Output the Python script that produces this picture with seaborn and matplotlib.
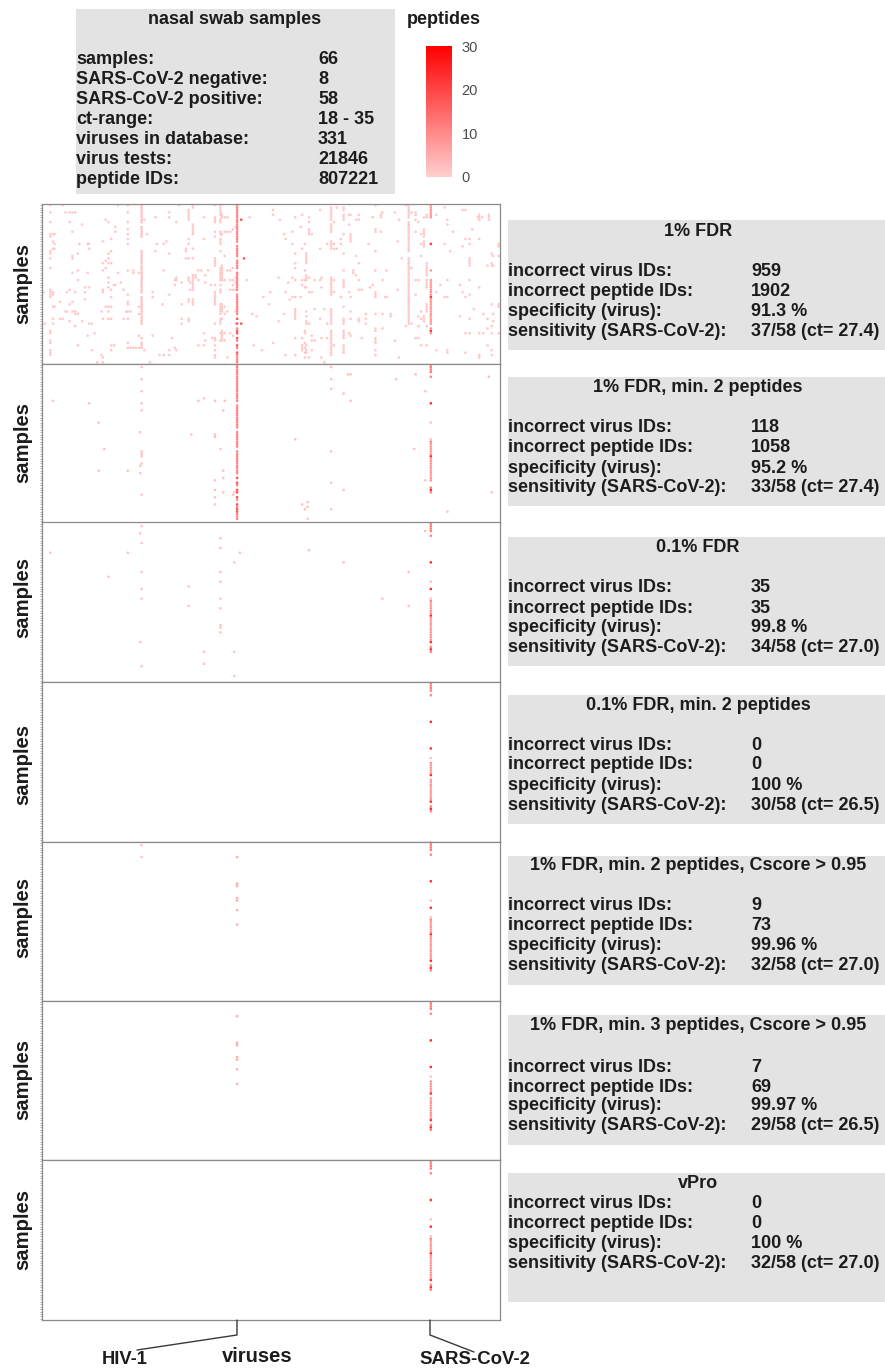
import numpy as np
import pandas as pd
import matplotlib
matplotlib.use("Agg")
import matplotlib.pyplot as plt
from matplotlib.cm import ScalarMappable
from matplotlib.colors import LinearSegmentedColormap, Normalize
from matplotlib.lines import Line2D
from matplotlib.patches import Rectangle
import seaborn as sns

N_SAMPLES = 66
N_VIRUSES = 331
HIV_COL = 141
HIV2_COL = 72
SARS_COL = 281

HIV_GAPS = [16, 27, 35, 46, 48, 51, 54, 57, 65]
HIV_BRIGHT = [47, 49, 52, 53, 55, 58, 60, 61]
COL72_RICH = [0, 1, 2, 3, 4, 5, 6, 7, 9, 10, 11, 12, 13, 19, 20, 21, 22, 23, 24, 25, 26, 27, 28, 29,
              30, 31, 32, 33, 34, 35, 36, 38, 39, 40, 41, 42, 43, 44, 45, 46, 47, 48, 49, 55, 57, 58, 59]

SARS_TOP = [0, 1, 2, 3]
SARS_BODY = [33, 34, 35, 36, 37, 39, 40, 41, 42, 43, 44, 45, 46, 47, 48]
SARS_BRIGHT = [16, 27, 38, 49, 52]
SARS_FAINT = [24, 31]

# Panel 1: 1% FDR, scattered identifications as column -> rows
P1_LEFT = {
    1: [36], 2: [49], 6: [0, 3, 7, 12, 13, 19, 20, 22, 26, 35, 36, 37, 38, 52, 53, 56, 57, 60, 61, 62],
    8: [12, 15, 18, 36, 37, 42, 47, 49], 9: [12, 16, 18, 42], 13: [40, 47], 15: [0, 47], 17: [44, 3],
    18: [44, 36], 20: [3, 7, 41, 48, 35], 22: [3, 11, 21, 22, 28, 40, 44], 24: [3, 36, 44, 45, 50],
    26: [20, 27, 31, 45, 58], 27: [16], 29: [8, 48], 31: [34, 36, 39], 33: [16, 28, 54], 34: [16, 18, 34, 49],
    36: [49, 60], 38: [53], 40: [65], 43: [44, 62], 44: [15, 24, 27, 35, 36, 47, 63, 65], 46: [6, 26, 42, 23],
    48: [7, 20, 22, 24, 30, 32, 34, 42, 44, 47], 50: [14, 19, 24, 35, 42, 47, 58, 60, 38], 52: [58, 33],
    53: [9, 11, 33], 55: [0, 28], 57: [32], 59: [35, 47], 61: [44],
    62: [0, 3, 7, 10, 12, 14, 16, 27, 37, 40, 41, 44, 47, 57, 59], 64: [44, 59], 66: [27, 28, 59], 68: [59],
    70: [28, 42, 45, 54, 59], 74: [6, 60], 76: [12], 78: [65], 80: [36, 38, 54], 82: [5, 19], 83: [16],
    85: [62], 87: [41], 88: [16, 27, 62], 90: [15], 92: [3, 5, 20, 37, 60, 62], 94: [55], 96: [31, 33, 59],
    97: [7, 30, 31, 60], 99: [0], 101: [32, 41, 47, 49], 104: [18, 19, 22],
    106: [2, 3, 4, 5, 6, 14, 16, 22, 30, 31, 39, 40, 47, 48], 107: [32, 35],
    109: [0, 1, 8, 9, 10, 11, 12, 18, 22, 29, 30, 31, 32, 33, 34, 35, 39, 40, 41], 111: [29, 30],
    113: [27, 31, 58], 115: [27], 117: [5, 14, 53, 58], 118: [29, 32, 56], 120: [27], 122: [33], 123: [55],
    125: [0, 5, 6, 7, 11, 13, 22, 23, 24, 25, 33, 36, 37, 38, 39, 40, 41, 49, 55, 56, 58, 60, 62, 63],
    129: [0, 1, 2, 3, 4, 6, 7, 11, 12, 14, 15, 16, 19, 26, 27, 28, 29, 30, 31, 33, 35, 36, 41, 42, 43, 44,
          45, 47, 48, 49, 53, 56],
    130: [4, 5, 12, 25, 26, 27, 28, 29, 30, 31, 41, 42, 43, 44, 47, 52, 53, 54, 55, 56],
    132: [5, 11, 21, 31, 42, 45, 53, 56], 134: [5, 11, 27, 44, 63], 136: [11, 27, 31, 35, 53],
    138: [10, 26, 31, 33, 35, 54], 140: [9, 30, 32, 35, 44, 49],
    148: [31], 150: [5], 152: [45], 153: [58], 155: [46], 159: [60], 160: [38], 164: [41],
}
P1_RIGHT = {
    165: [36], 167: [2, 4, 57], 171: [30, 48], 172: [6], 175: [12, 45], 176: [14, 36, 62], 178: [32], 179: [39],
    181: [11, 16, 30, 38], 183: [5, 20, 24, 26, 31, 38, 43, 44, 45, 46, 47, 55, 62], 187: [9, 38],
    188: [4, 18, 31, 33, 55, 58, 59, 60], 190: [16, 27, 31, 34, 52, 53, 57, 59, 61, 63],
    191: [20, 21, 22, 23, 24, 29, 30, 31, 34, 44, 46, 48, 49, 58, 60, 61],
    193: [5, 7, 10, 11, 12, 30, 36, 49, 63], 195: [12, 36, 54, 56, 60], 197: [31, 43, 56],
    201: [2, 18, 31, 47], 202: [30, 34, 55, 63], 204: [43, 65], 206: [16, 49, 55],
    209: [1, 2, 3, 4, 5, 6, 8, 9, 10, 11, 15, 16, 17, 18, 30, 31, 32, 33, 34, 35, 36, 37, 43, 44, 45, 46, 47,
          48, 49, 52, 53, 54, 55, 56, 57, 58, 59, 60, 61, 62],
    211: [7, 16, 18, 31, 36, 58], 213: [1, 18], 216: [14, 16, 38],
    218: [1, 2, 4, 5, 6, 12, 20, 27, 31, 32, 33, 34, 42, 47, 48, 49, 52, 53, 54, 55, 58, 59, 60, 61],
    222: [4, 8, 36, 53], 223: [4, 12, 13, 14, 15, 38, 44, 47, 54], 225: [27, 28], 227: [6, 21, 29],
    229: [4, 6, 24, 31, 35, 47, 48], 231: [35, 55], 234: [45, 47, 49], 236: [16], 237: [34], 239: [5, 33],
    241: [0, 10, 11, 19, 27, 36, 37, 38, 45, 51, 52, 55, 56, 57, 60, 62], 245: [4, 5, 11], 246: [3, 31, 45, 51],
    248: [38], 249: [27, 38], 252: [45, 46], 255: [3, 56], 257: [15, 35], 258: [6, 63], 260: [22], 263: [0, 50],
    265: [0, 1, 2, 3, 4, 5, 7, 9, 10, 11, 12, 13, 14, 15, 16, 17, 18, 19, 22, 23, 24, 25, 26, 27, 28, 29, 30, 31,
          32, 33, 34, 35, 36, 37, 38, 40, 41, 42, 43, 44, 45, 46, 47, 48, 49],
    267: [3, 26, 49], 270: [3, 4, 6, 11, 31, 37, 55], 272: [7, 31, 46, 50, 55], 274: [12, 16, 21, 44, 47, 58],
    276: [5, 10, 11, 12, 13, 15, 16, 17, 46, 47, 48],
    278: [4, 5, 24, 25, 26, 27, 28, 29, 31, 32, 33, 34, 41, 42, 43, 44, 50, 58], 285: [4, 36, 60],
    288: [33], 291: [1, 16, 38], 293: [6, 8, 31, 38, 60, 61], 295: [19], 297: [11], 302: [33, 46],
    304: [2, 17, 36], 306: [2, 14, 38, 53, 61], 309: [14, 16, 22, 23, 24, 25, 31, 37, 47, 53], 311: [10],
    312: [43], 315: [5], 316: [4, 5, 6, 14, 34, 53, 62, 63], 318: [5], 319: [45, 53],
    322: [25, 47, 51, 58], 323: [4, 5, 6], 325: [20, 24, 25, 41, 50, 53, 60, 62], 326: [21, 25, 45, 48],
    330: [16, 17, 21, 41, 42, 53],
}
P1_BRIGHT_COLS = [144, 146, 144]
P1_BRIGHT_ROWS = [6, 22, 49]

# Panel 2: 1% FDR, min. 2 peptides
P2_COLS = [72, 72, 72, 72, 72, 72, 72, 72, 72, 72, 71, 71, 71, 8, 34, 113, 117, 125, 132, 131, 41, 108, 125, 125,
           45, 129, 41, 62, 131, 131, 125, 125, 131, 125, 125, 138, 139, 209, 209, 209, 221, 223, 218, 223, 256,
           270, 277, 323, 183, 209, 269, 209, 218, 277, 325, 192, 188, 192, 190, 209, 192, 293]
P2_ROWS = [1, 6, 11, 16, 19, 36, 37, 38, 41, 54, 28, 42, 45, 15, 16, 15, 14, 15, 15, 19, 24, 29, 29, 30,
           35, 35, 44, 44, 44, 47, 48, 52, 53, 55, 58, 54, 53, 1, 6, 10, 4, 4, 12, 15, 6,
           4, 11, 5, 31, 36, 35, 49, 52, 48, 53, 57, 58, 59, 60, 60, 64, 61]
P2_SARS = [0, 1, 2, 3, 5, 16, 24, 31, 32, 33, 34, 35, 36, 37, 38, 39, 40, 41, 42, 43, 44, 45, 46, 47, 48, 51, 52, 53]

# Panel 3: 0.1% FDR
P3_COLS = [72, 72, 72, 72, 72, 72, 71, 71, 6, 62, 48, 129, 129, 143, 139, 129, 129, 106, 106, 129, 129, 129, 129,
           129, 117, 117, 139, 139, 193, 218, 265, 265, 246, 277]
P3_ROWS = [1, 8, 20, 27, 31, 59, 4, 49, 12, 12, 22, 6, 10, 12, 16, 20, 24, 26, 34, 31, 35, 42, 43,
           45, 53, 58, 53, 63, 11, 16, 20, 34, 31, 3]
P3_SARS = [0, 1, 2, 3, 5, 16, 24, 27, 31, 32, 33, 34, 35, 36, 37, 38, 39, 40, 41, 42, 43, 44, 45, 46, 47, 48, 49, 51,
           52, 53]

# Panels 4 to 7
P4_SARS = [0, 1, 2, 3, 5, 16, 27, 31, 33, 34, 35, 36, 37, 38, 40, 41, 42, 43, 44, 45, 46, 47, 48, 49, 51, 52, 53]
P5_COL72 = [1, 6]
P5_HIV = [6, 17, 18, 23, 24, 28, 34]
P5_SARS = [0, 1, 2, 3, 5, 16, 24, 27, 31, 32, 33, 34, 35, 36, 37, 38, 39, 40, 41, 42, 43, 44, 45, 46, 47, 48, 49, 51,
           52, 53]
P6_HIV = [6, 17, 18, 23, 24, 28, 34]
P6_SARS = [0, 1, 2, 3, 5, 16, 27, 31, 33, 34, 35, 36, 37, 38, 40, 41, 42, 43, 44, 45, 46, 47, 48, 49, 51, 52, 53]
P7_SARS = [0, 1, 2, 3, 5, 16, 24, 27, 31, 32, 33, 34, 35, 36, 37, 38, 39, 40, 41, 42, 43, 44, 45, 46, 47, 48, 49, 51,
           52, 53]

LEGEND_TICKS = [0, 10, 20, 30]
HEADER_LABELS = ["samples:", "SARS-CoV-2 negative:", "SARS-CoV-2 positive:", "ct-range:",
                 "viruses in database:", "virus tests:", "peptide IDs:"]
HEADER_VALUES = ["66", "8", "58", "18 - 35", "331", "21846", "807221"]
STAT_LABELS = ["incorrect virus IDs:", "incorrect peptide IDs:", "specificity (virus):", "sensitivity (SARS-CoV-2):"]
PANEL_TITLES = ["1% FDR", "1% FDR, min. 2 peptides", "0.1% FDR", "0.1% FDR, min. 2 peptides",
                "1% FDR, min. 2 peptides, Cscore > 0.95", "1% FDR, min. 3 peptides, Cscore > 0.95", "vPro"]
PANEL_STATS = [
    ["959", "1902", "91.3 %", "37/58 (ct= 27.4)"],
    ["118", "1058", "95.2 %", "33/58 (ct= 27.4)"],
    ["35", "35", "99.8 %", "34/58 (ct= 27.0)"],
    ["0", "0", "100 %", "30/58 (ct= 26.5)"],
    ["9", "73", "99.96 %", "32/58 (ct= 27.0)"],
    ["7", "69", "99.97 %", "29/58 (ct= 26.5)"],
    ["0", "0", "100 %", "32/58 (ct= 27.0)"],
]

# layout, in pixels of the 885 x 1369 picture
W, H = 885, 1369
PANEL_EDGES = [204, 363.5, 522.5, 682, 841.5, 1000.5, 1160, 1320]
BOX_TOPS = [220, 377, 537, 695, 856, 1015, 1173]
BOX_BOTTOMS = [350, 506, 666, 824, 985, 1145, 1302]
TITLE_Y = [231, 388, 548, 705, 866, 1026, 1183]
LINE_Y = [
    [272, 291, 311, 331], [428, 448, 468, 487], [588, 608, 628, 648], [745, 765, 785, 805],
    [906, 926, 946, 966], [1067, 1087, 1106, 1126], [1203, 1223, 1244, 1264],
]
SAMPLE_Y = [284, 442, 597, 765, 918, 1079, 1229]
TEXT = "#1c1c1c"
FS = 13.0

plt.rcParams["font.family"] = ["Liberation Sans", "DejaVu Sans"]
sns.set_style("white")
plt.rcParams["font.family"] = ["Liberation Sans", "DejaVu Sans"]
cmap = LinearSegmentedColormap.from_list("peptides", ["#ffcfcf", "#ff0000"])
norm = Normalize(0, 30)


def empty():
    return np.full((N_SAMPLES, N_VIRUSES), np.nan)


def put(m, cols, rows, value):
    for c, r in zip(cols, rows):
        m[r, c] = value


def put_col(m, col, rows, value):
    put(m, [col] * len(rows), rows, value)


def add_sars(m, rows):
    for r in rows:
        if r in SARS_BRIGHT:
            v = 24
        elif r in SARS_FAINT:
            v = 2
        elif r in SARS_TOP:
            v = 12
        elif r in SARS_BODY:
            v = 8
        else:
            v = 11
        m[r, SARS_COL] = v


def add_hiv(m, gaps, bright):
    rows = [r for r in range(N_SAMPLES) if r not in gaps]
    put_col(m, HIV_COL, rows, 11)
    put_col(m, HIV_COL, [r for r in bright if r not in gaps], 18)


m1 = empty()
for source in (P1_LEFT, P1_RIGHT):
    for col, rows in source.items():
        put_col(m1, col, rows, 1)
put_col(m1, HIV2_COL, COL72_RICH, 2)
add_hiv(m1, [16, 22, 27, 36, 46, 48, 50, 54, 57, 60], HIV_BRIGHT)
put(m1, P1_BRIGHT_COLS, P1_BRIGHT_ROWS, 18)
put_col(m1, 265, [8, 39], 3)
put_col(m1, SARS_COL, [0, 1, 2, 3, 4, 5], 8)
for r in P3_SARS:
    if r not in (5, 24):
        m1[r, SARS_COL] = 8
put_col(m1, SARS_COL, [16, 38, 52], 22)

m2 = empty()
put(m2, P2_COLS, P2_ROWS, 2)
add_hiv(m2, HIV_GAPS, HIV_BRIGHT)
add_sars(m2, P2_SARS)

m3 = empty()
put(m3, P3_COLS, P3_ROWS, 2)
add_sars(m3, P3_SARS)

m4 = empty()
add_sars(m4, P4_SARS)

m5 = empty()
put_col(m5, HIV2_COL, P5_COL72, 2)
put_col(m5, HIV_COL, P5_HIV, 5)
add_sars(m5, P5_SARS)

m6 = empty()
put_col(m6, HIV_COL, P6_HIV, 5)
add_sars(m6, P6_SARS)

m7 = empty()
add_sars(m7, P7_SARS)

matrices = [m1, m2, m3, m4, m5, m6, m7]


def to_long(m):
    rows, cols = np.nonzero(~np.isnan(m))
    return pd.DataFrame({"virus": cols, "sample": rows + 0.5, "peptides": m[rows, cols]}).sort_values("peptides")


def rect(x0, y0, x1, y1):
    return [x0 / W, 1 - y1 / H, (x1 - x0) / W, (y1 - y0) / H]


def ftext(x, y, s, **kw):
    kw.setdefault("fontsize", FS)
    kw.setdefault("fontweight", "bold")
    kw.setdefault("color", TEXT)
    kw.setdefault("va", "center")
    return fig.text(x / W, 1 - y / H, s, **kw)


def box(x0, y0, x1, y1):
    fig.add_artist(Rectangle((x0 / W, 1 - y1 / H), (x1 - x0) / W, (y1 - y0) / H,
                             transform=fig.transFigure, facecolor="#e3e3e3", edgecolor="none", zorder=-1))


fig = plt.figure(figsize=(W / 100, H / 100), dpi=100)

for i, m in enumerate(matrices):
    ax = fig.add_axes(rect(42, PANEL_EDGES[i], 500, PANEL_EDGES[i + 1]))
    sns.scatterplot(data=to_long(m), x="virus", y="sample", hue="peptides", palette=cmap, hue_norm=norm,
                    marker="o", s=3.6, linewidth=0, legend=False, ax=ax, clip_on=True)
    ax.set_xlim(0, N_VIRUSES)
    ax.set_ylim(N_SAMPLES, 0)
    ax.set_xlabel("")
    ax.set_ylabel("")
    ax.set_xticks([])
    ax.set_yticks(np.arange(N_SAMPLES) + 0.5)
    ax.set_yticklabels([])
    ax.tick_params(axis="y", left=True, length=1.2, width=0.4, color="#777777", pad=0)
    for s in ax.spines.values():
        s.set_visible(True)
        s.set_color("#8a8a8a")
        s.set_linewidth(0.9)
    ftext(23, SAMPLE_Y[i], "samples", rotation=90, ha="center", fontsize=14.6)

    box(508, BOX_TOPS[i], 885, BOX_BOTTOMS[i])
    ftext(698, TITLE_Y[i], PANEL_TITLES[i], ha="center")
    for y, lab, val in zip(LINE_Y[i], STAT_LABELS, PANEL_STATS[i]):
        ftext(508, y, lab)
        ftext(751, y, val)

cax = fig.add_axes(rect(426, 46, 452, 177))
cb = fig.colorbar(ScalarMappable(norm=norm, cmap=cmap), cax=cax)
cb.set_ticks(LEGEND_TICKS)
cb.outline.set_visible(False)
cax.tick_params(axis="y", length=4, width=0.5, color="white", direction="in", labelsize=10.5,
                labelcolor="#4d4d4d", pad=7, right=True, left=True)

box(76, 9, 395, 194)
ftext(235, 19, "nasal swab samples", ha="center")
ftext(444, 19, "peptides", ha="center")
for y, lab, val in zip([59, 79, 99, 119, 139, 159, 180], HEADER_LABELS, HEADER_VALUES):
    ftext(76, y, lab)
    ftext(318, y, val)

line_c = "#3a3a3a"
for xs, ys in ([[237, 237, 137], [1320, 1335, 1350]], [[430, 430, 474], [1320, 1335, 1352]]):
    fig.add_artist(Line2D([x / W for x in xs], [1 - y / H for y in ys], transform=fig.transFigure,
                          color=line_c, linewidth=1.0))
ftext(125, 1360, "HIV-1", ha="center", fontsize=13.2)
ftext(257, 1356, "viruses", ha="center", fontsize=14.6)
ftext(475, 1360, "SARS-CoV-2", ha="center", fontsize=13.4)

fig.savefig("out.png", dpi=100)
